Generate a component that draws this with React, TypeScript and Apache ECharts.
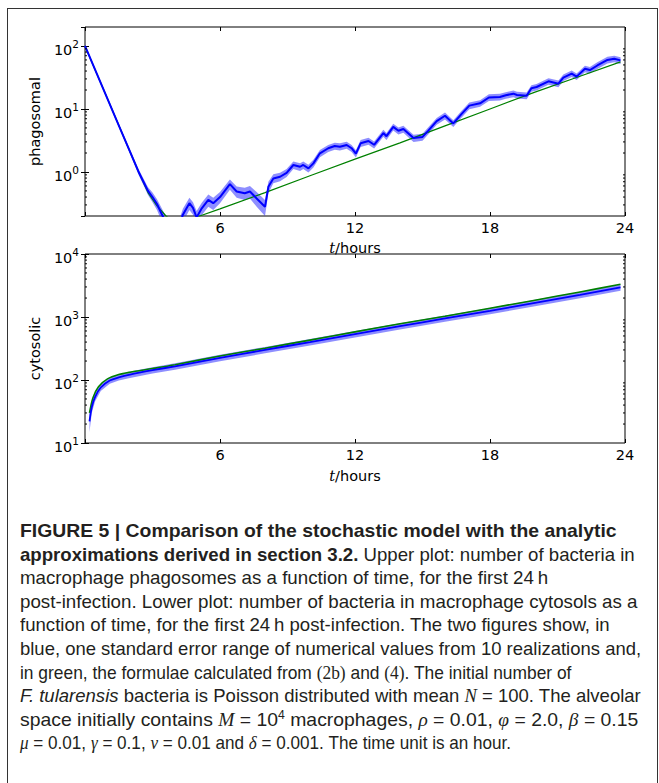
import React, { useEffect, useRef } from 'react';
import * as echarts from 'echarts';

// ---------- data ----------
const xTickValues = [6, 12, 18, 24];

// Upper plot: phagosomal bacteria
const phagoT = [0, 0.5, 1.0, 1.5, 2.0, 2.4, 2.8, 3.0, 3.2, 3.45, 3.7, 4.0, 4.2, 4.35, 4.64, 4.8, 4.96, 5.19, 5.48, 5.7, 6.0, 6.44, 6.74, 7.1, 7.33, 7.63, 8.0, 8.15, 8.37, 8.67, 8.96, 9.26, 9.56, 9.7, 9.93, 10.15, 10.44, 10.81, 11.1, 11.33, 11.63, 11.85, 12.04, 12.25, 12.6, 12.85, 13.26, 13.4, 13.7, 13.93, 14.15, 14.6, 15.0, 15.25, 15.63, 16.0, 16.37, 16.72, 17.08, 17.56, 17.95, 18.44, 18.7, 19.04, 19.2, 19.63, 19.84, 20.07, 20.6, 21.04, 21.26, 21.63, 21.85, 22.22, 22.44, 22.77, 23.22, 23.52, 23.8];
const phagoMean = [100, 38, 14.5, 5.5, 2.1, 0.97, 0.5, 0.4, 0.31, 0.2, 0.13, 0.1, 0.14, 0.21, 0.32, 0.27, 0.19, 0.265, 0.36, 0.32, 0.4, 0.64, 0.49, 0.46, 0.49, 0.38, 0.28, 0.58, 0.79, 0.84, 0.97, 1.29, 1.21, 1.29, 1.14, 1.37, 1.98, 2.38, 2.58, 2.52, 2.68, 2.38, 1.95, 2.85, 3.1, 2.7, 4.15, 3.7, 5.2, 4.5, 4.8, 3.45, 3.6, 4.5, 6.4, 7.8, 5.9, 8.2, 11.3, 12.3, 15.2, 15.5, 16.5, 17.5, 16.7, 16.2, 21.3, 22.3, 27.5, 25.2, 31.5, 36.5, 32.6, 43.5, 41.5, 49, 60, 62.5, 59];
const phagoErr = [3, 1.5, 0.7, 0.3, 0.15, 0.1, 0.07, 0.07, 0.06, 0.05, 0.04, 0.03, 0.04, 0.05, 0.07, 0.06, 0.05, 0.06, 0.08, 0.07, 0.08, 0.12, 0.1, 0.1, 0.11, 0.1, 0.08, 0.12, 0.13, 0.13, 0.14, 0.18, 0.17, 0.18, 0.16, 0.19, 0.26, 0.3, 0.33, 0.33, 0.34, 0.3, 0.26, 0.36, 0.4, 0.35, 0.52, 0.47, 0.65, 0.57, 0.6, 0.45, 0.46, 0.57, 0.8, 0.97, 0.75, 1.02, 1.4, 1.5, 1.85, 1.9, 2.0, 2.1, 2.0, 2.0, 2.6, 2.7, 3.3, 3.0, 3.8, 4.4, 3.9, 5.2, 5.0, 5.9, 7.2, 7.5, 7.1];
const phagoFormulaT = [0, 0.5, 1.0, 1.5, 2.0, 2.4, 2.8, 3.2, 3.6, 4.0, 4.4, 4.8, 5.1, 6, 8, 10, 12, 14, 16, 18, 20, 22, 23.8];
const phagoFormula = [100, 38, 14.5, 5.5, 2.1, 0.97, 0.47, 0.29, 0.2, 0.155, 0.145, 0.165, 0.2, 0.26, 0.47, 0.87, 1.6, 2.9, 5.4, 10, 18.5, 33, 56];

// Lower plot: cytosolic bacteria
const cytoT = [0.2, 0.3, 0.45, 0.7, 1.1, 1.5, 2, 3, 4, 6, 8, 10, 12, 14, 16, 18, 20, 22, 23.8];
const cytoMean = [22, 37, 54, 76, 98, 110, 122, 143, 165, 225, 300, 400, 535, 715, 950, 1250, 1680, 2250, 2950];
const cytoErr = [7, 7, 8, 9, 11, 12, 14, 16, 19, 26, 35, 46, 62, 82, 110, 145, 195, 260, 340];
const cytoFormulaT = [0.2, 0.35, 0.6, 1.0, 1.5, 2, 3, 4, 6, 8, 10, 12, 14, 16, 18, 20, 22, 23.8];
const cytoFormula = [30, 52, 78, 104, 122, 133, 152, 175, 240, 320, 430, 580, 780, 1030, 1380, 1850, 2500, 3300];

// Minor log ticks
const minorTicksTop = [0.3, 0.4, 0.5, 0.6, 0.7, 0.8, 0.9, 2, 3, 4, 5, 6, 7, 8, 9, 20, 30, 40, 50, 60, 70, 80, 90];
const minorTicksBottom = [20, 30, 40, 50, 60, 70, 80, 90, 200, 300, 400, 500, 600, 700, 800, 900, 2000, 3000, 4000, 5000, 6000, 7000, 8000, 9000];

// ---------- styling ----------
const FONT = 'DejaVu Sans';
const BLUE = '#0000ff';
const BAND = 'rgba(30,30,255,0.5)';
const GREEN = '#008000';

const xMin = 0;
const xMax = 24;

const pow10Label = (v: number) => {
  const k = Math.round(Math.log10(v));
  return `{b|10}{s|${k}}`;
};

const yLabelRich = {
  b: { fontSize: 14.5, lineHeight: 15, verticalAlign: 'bottom', fontFamily: FONT, color: '#000' },
  s: { fontSize: 10.5, lineHeight: 11, padding: [0, 0, 8, 0], verticalAlign: 'bottom', fontFamily: FONT, color: '#000' },
};

function makeAxesForGrid(gridIndex: number, yMin: number, yMax: number, yName: string, xName: string, nameGap: number, hideEnds: boolean) {
  const xMain = {
    type: 'value', gridIndex, min: xMin, max: xMax, interval: 6, position: 'bottom',
    axisLine: { show: false },
    axisTick: { show: true, inside: true, length: 4, lineStyle: { color: '#000' } },
    splitLine: { show: false },
    axisLabel: {
      show: true, margin: 4, fontSize: 14.5, fontFamily: FONT, color: '#000',
      formatter: (v: number) => (xTickValues.indexOf(v) >= 0 ? String(v) : ''),
    },
    name: xName, nameLocation: 'middle', nameGap,
    nameTextStyle: {
      rich: {
        i: { fontSize: 14.5, fontStyle: 'italic', fontFamily: 'DejaVu Serif', color: '#000' },
        n: { fontSize: 14.5, fontFamily: FONT, color: '#000' },
      },
    },
  };
  const xTop = {
    type: 'value', gridIndex, min: xMin, max: xMax, interval: 6, position: 'top',
    axisLine: { show: false },
    axisTick: { show: true, inside: true, length: 4, lineStyle: { color: '#000' } },
    splitLine: { show: false },
    axisLabel: { show: false },
  };
  const yMain = {
    type: 'log', logBase: 10, gridIndex, min: yMin, max: yMax, position: 'left',
    axisLine: { show: false },
    axisTick: { show: true, inside: true, length: 4, lineStyle: { color: '#000' } },
    splitLine: { show: false },
    axisLabel: {
      show: true, margin: 6, showMinLabel: !hideEnds, showMaxLabel: !hideEnds, fontSize: 14.5,
      formatter: pow10Label, rich: yLabelRich, padding: [8, 0, 0, 0],
    },
    name: yName, nameLocation: 'middle', nameGap: 40, nameRotate: 90,
    nameTextStyle: { fontSize: 14.5, fontFamily: FONT, color: '#000' },
  };
  const yRight = {
    type: 'log', logBase: 10, gridIndex, min: yMin, max: yMax, position: 'right',
    axisLine: { show: false },
    axisTick: { show: true, inside: true, length: 4, lineStyle: { color: '#000' } },
    splitLine: { show: false },
    axisLabel: { show: false },
  };
  return { xs: [xMain, xTop], ys: [yMain, yRight] };
}

function bandSeries(xAxisIndex: number, yAxisIndex: number, ts: number[], mean: number[], err: number[]) {
  return {
    type: 'custom', xAxisIndex, yAxisIndex, clip: true, z: 2, silent: true,
    data: [[ts[0], mean[0]]],
    renderItem: (_params: any, api: any) => {
      const pts: number[][] = [];
      for (let i = 0; i < ts.length; i++) pts.push(api.coord([ts[i], mean[i] + err[i]]));
      for (let i = ts.length - 1; i >= 0; i--) pts.push(api.coord([ts[i], Math.max(mean[i] - err[i], 1e-6)]));
      return { type: 'polygon', shape: { points: pts, smooth: 0 }, style: { fill: BAND, stroke: 'none' } };
    },
  };
}

function minorTickSeries(xAxisIndex: number, yAxisIndex: number, values: number[]) {
  return {
    type: 'custom', xAxisIndex, yAxisIndex, z: 5, silent: true,
    data: values.map((v) => [xMin, v]),
    renderItem: (_params: any, api: any) => {
      const v = api.value(1);
      const pl = api.coord([xMin, v]);
      const pr = api.coord([xMax, v]);
      return {
        type: 'group',
        children: [
          { type: 'line', shape: { x1: pl[0], y1: pl[1], x2: pl[0] + 2, y2: pl[1] }, style: { stroke: '#000', lineWidth: 1 } },
          { type: 'line', shape: { x1: pr[0], y1: pr[1], x2: pr[0] - 2, y2: pr[1] }, style: { stroke: '#000', lineWidth: 1 } },
        ],
      };
    },
  };
}

const zip = (a: number[], b: number[]) => a.map((x, i) => [x, b[i]]);

function buildOption() {
  const top = makeAxesForGrid(0, 0.2, 200, 'phagosomal', '{i|t}{n|/hours}', 24, true);
  const bottom = makeAxesForGrid(1, 10, 10000, 'cytosolic', '{i|t}{n|/hours}', 25, false);
  return {
    animation: false,
    backgroundColor: 'transparent',
    grid: [
      { left: 85, top: 27, width: 540, height: 189, show: true, borderColor: '#000', borderWidth: 1, backgroundColor: 'transparent' },
      { left: 85, top: 254, width: 540, height: 189, show: true, borderColor: '#000', borderWidth: 1, backgroundColor: 'transparent' },
    ],
    xAxis: [...top.xs, ...bottom.xs],
    yAxis: [...top.ys, ...bottom.ys],
    series: [
      bandSeries(0, 0, phagoT, phagoMean, phagoErr),
      {
        type: 'line', xAxisIndex: 0, yAxisIndex: 0, data: zip(phagoFormulaT, phagoFormula),
        symbol: 'none', lineStyle: { color: GREEN, width: 1.2 }, z: 3, clip: true, silent: true,
      },
      {
        type: 'line', xAxisIndex: 0, yAxisIndex: 0, data: zip(phagoT, phagoMean),
        symbol: 'none', lineStyle: { color: BLUE, width: 2 }, z: 4, clip: true, silent: true,
      },
      minorTickSeries(0, 0, minorTicksTop),
      bandSeries(2, 2, cytoT, cytoMean, cytoErr),
      {
        type: 'line', xAxisIndex: 2, yAxisIndex: 2, data: zip(cytoFormulaT, cytoFormula), smooth: 0.3,
        symbol: 'none', lineStyle: { color: GREEN, width: 1.6 }, z: 3, clip: true, silent: true,
      },
      {
        type: 'line', xAxisIndex: 2, yAxisIndex: 2, data: zip(cytoT, cytoMean), smooth: 0.3,
        symbol: 'none', lineStyle: { color: BLUE, width: 1.8 }, z: 4, clip: true, silent: true,
      },
      minorTickSeries(2, 2, minorTicksBottom),
    ],
  };
}

const capFont = '"Liberation Sans", Arial, sans-serif';
const serif = '"Liberation Serif", serif';

// horizontal squeeze per caption line (the original uses a condensed face)
const lineScale = [1.02, 0.98, 0.985, 0.986, 0.979, 0.972, 0.915, 0.975, 1.02, 0.9];

export default function App() {
  const ref = useRef<HTMLDivElement>(null);
  useEffect(() => {
    if (!ref.current) return;
    const chart = echarts.init(ref.current, null, { renderer: 'svg' });
    chart.setOption(buildOption() as any);
    return () => chart.dispose();
  }, []);

  const I = (s: string) => <i style={{ fontFamily: serif }}>{s}</i>;
  const lines: React.ReactNode[] = [
    <b>FIGURE 5 | Comparison of the stochastic model with the analytic</b>,
    <><b>approximations derived in section 3.2.</b> Upper plot: number of bacteria in</>,
    <>macrophage phagosomes as a function of time, for the first 24{'\u2009'}h</>,
    <>post-infection. Lower plot: number of bacteria in macrophage cytosols as a</>,
    <>function of time, for the first 24{'\u2009'}h post-infection. The two figures show, in</>,
    <>blue, one standard error range of numerical values from 10 realizations and,</>,
    <>in green, the formulae calculated from <span style={{ fontFamily: serif }}>(2b)</span> and <span style={{ fontFamily: serif }}>(4)</span>. The initial number of</>,
    <><i>F. tularensis</i> bacteria is Poisson distributed with mean {I('N')} = 100. The alveolar</>,
    <>space initially contains {I('M')} = 10<sup style={{ fontSize: 12, lineHeight: 0 }}>4</sup> macrophages, {I('ρ')} = 0.01, {I('φ')} = 2.0, {I('β')} = 0.15</>,
    <>{I('μ')} = 0.01, {I('γ')} = 0.1, {I('ν')} = 0.01 and {I('δ')} = 0.001. The time unit is an hour.</>,
  ];

  return (
    <div style={{ position: 'absolute', left: 0, top: 0, width: 659, height: 783, overflow: 'hidden', background: '#fff' }}>
      <div style={{ position: 'absolute', left: 7, top: 8, width: 651, height: 820, border: '1px solid #333', boxSizing: 'border-box' }} />
      <div ref={ref} style={{ position: 'absolute', left: 0, top: 0, width: 659, height: 500 }} />
      <div style={{ position: 'absolute', left: 20, top: 519, fontFamily: capFont, fontSize: 19, lineHeight: '23.6px', color: '#231f20', whiteSpace: 'nowrap' }}>
        {lines.map((ln, i) => (
          <div key={i} style={{ transform: `scaleX(${lineScale[i]})`, transformOrigin: 'left center' }}>{ln}</div>
        ))}
      </div>
    </div>
  );
}
